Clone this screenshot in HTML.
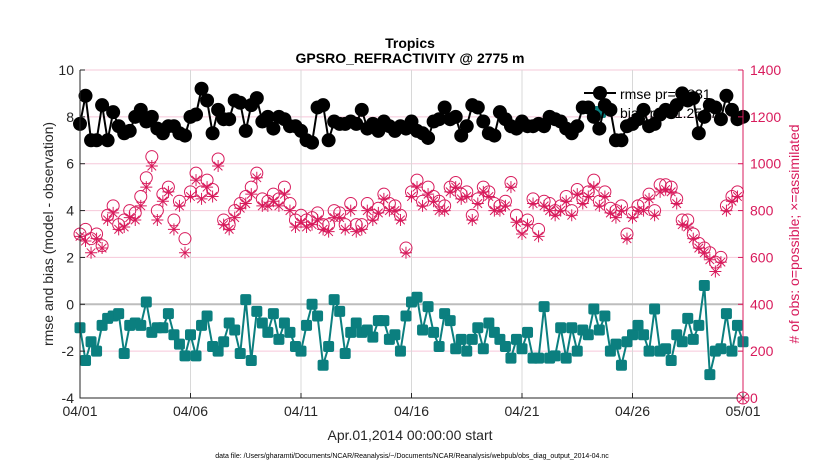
<!DOCTYPE html>
<html><head><meta charset="utf-8"><style>
html,body{margin:0;padding:0;background:#fff;width:830px;height:470px;overflow:hidden}
svg text{font-family:"Liberation Sans",sans-serif}
</style></head><body>
<svg id="chart" width="830" height="470" xmlns="http://www.w3.org/2000/svg"></svg>
<script>
const xTickLabels=["04/01","04/06","04/11","04/16","04/21","04/26","05/01"];
const leftTicks=[-4,-2,0,2,4,6,8,10];
const rightTicks=[0,200,400,600,800,1000,1200,1400];
const rmse=[7.7,8.9,7.0,7.0,8.5,7.0,8.2,7.6,7.3,7.4,
8.0,8.3,7.8,8.0,7.5,7.3,7.6,7.6,7.3,7.2,
8.0,8.1,9.2,8.7,7.3,8.3,7.9,7.9,8.7,8.6,
7.4,8.5,8.8,7.8,8.0,7.5,8.0,7.9,7.6,7.6,
7.4,7.0,6.9,8.4,8.5,7.0,7.8,7.7,7.7,7.8,
7.7,8.3,7.5,7.7,7.4,7.8,7.6,7.4,7.6,7.5,
7.8,7.4,7.3,7.1,7.8,7.9,8.4,7.9,8.0,7.2,
7.6,8.5,8.4,7.8,7.3,7.2,8.2,7.9,7.6,7.5,
7.8,7.6,7.6,7.7,7.6,8.0,7.9,7.8,7.5,7.3,
7.6,8.4,8.4,8.0,7.5,8.5,8.3,7.0,7.0,7.6,
7.7,7.9,8.3,7.6,7.7,8.1,8.3,8.2,8.5,9.0,
8.7,8.8,7.3,8.0,8.5,8.4,7.9,8.9,8.3,7.9,8.0];
const bias=[-1.0,-2.4,-1.6,-2.0,-0.9,-0.6,-0.5,-0.4,-2.1,-0.9,
-0.8,-0.9,0.1,-1.2,-1.0,-1.0,-0.4,-1.3,-1.7,-2.2,
-1.3,-2.2,-0.9,-0.5,-1.8,-2.0,-1.6,-0.8,-1.1,-2.1,
0.2,-2.4,-0.3,-0.8,-1.2,-0.4,-1.5,-0.8,-1.2,-1.8,
-2.0,-0.9,0.0,-0.5,-2.6,-1.8,0.2,-0.3,-2.1,-1.2,
-0.8,-1.2,-1.1,-1.4,-0.7,-0.7,-1.5,-1.3,-2.0,-0.5,
0.1,0.3,-1.1,-0.1,-1.2,-1.8,-0.4,-0.7,-1.9,-1.5,
-2.0,-1.5,-1.0,-1.9,-0.8,-1.2,-1.5,-1.8,-2.3,-1.5,
-1.9,-1.2,-2.3,-2.3,-0.1,-2.3,-2.2,-1.0,-2.3,-1.0,
-2.0,-1.1,-1.3,-0.2,-1.1,-0.5,-2.0,-1.7,-2.6,-1.6,
-1.3,-0.9,-1.3,-2.0,-0.2,-2.0,-1.9,-2.4,-1.3,-1.6,
-0.6,-1.5,-0.9,0.8,-3.0,-2.0,-1.9,-0.4,-2.0,-0.9,-1.6];
const possible=[700,720,680,700,650,780,820,740,760,800,
790,860,940,1030,800,870,900,760,840,680,
880,960,880,930,890,1020,760,740,800,830,
860,900,960,850,840,870,850,900,830,760,
780,760,770,790,740,740,800,790,740,830,
740,740,830,780,810,870,830,820,780,640,
880,930,840,900,860,840,820,900,920,870,
880,780,850,900,880,830,820,840,920,780,
730,760,850,720,840,830,800,820,860,800,
890,850,880,930,840,880,810,800,820,700,
790,820,830,870,800,910,910,900,850,760,
760,700,660,640,620,580,600,820,860,880,0];
const assimilated=[690,670,620,680,640,760,790,720,730,770,
760,820,900,990,760,840,880,720,820,620,
860,930,850,900,860,990,740,720,770,810,
830,870,940,820,820,840,820,870,800,730,
750,730,740,760,720,710,770,770,720,800,
710,720,800,760,790,850,800,800,760,620,
860,900,820,870,840,800,800,880,900,850,
860,760,830,880,860,800,800,820,900,750,
700,740,830,690,820,800,780,800,840,780,
870,830,860,900,820,860,790,770,800,680,
770,800,800,850,780,880,890,880,830,740,
730,680,640,620,590,540,580,800,840,860,0];

const NS="http://www.w3.org/2000/svg";
const svg=document.getElementById('chart');
const X0=80,X1=743,Y0=70,Y1=398;
const CR="#d81b5c";
function xS(i){return X0+(i/4)/30*(X1-X0);}
function yL(v){return Y1-(v+4)/14*(Y1-Y0);}
function yR(c){return Y1-c/1400*(Y1-Y0);}
function mk(tag,attrs,parent){const e=document.createElementNS(NS,tag);for(const k in attrs)e.setAttribute(k,attrs[k]);(parent||svg).appendChild(e);return e;}
function txt(s,attrs){const e=mk('text',attrs);e.textContent=s;return e;}

rightTicks.forEach(t=>{const g=mk('line',{x1:X0,x2:X1,y1:yR(t),y2:yR(t),stroke:'#f6c8da','stroke-width':1});

});
xTickLabels.forEach((l,k)=>{const x=X0+k*5/30*(X1-X0);const g=mk('line',{x1:x,x2:x,y1:Y0,y2:Y1,stroke:'#d8d8d8','stroke-width':1});

});
const zl=mk('line',{x1:X0,x2:X1,y1:yL(0),y2:yL(0),stroke:'#bdbdbd','stroke-width':2});



const lg=mk('g',{});


mk('line',{x1:584,x2:616,y1:93,y2:93,stroke:'#000','stroke-width':2},lg);
mk('circle',{cx:600,cy:93,r:7,fill:'#000'},lg);
mk('line',{x1:584,x2:616,y1:112,y2:112,stroke:'#0b7f7f','stroke-width':2},lg);
mk('rect',{x:594,y:106,width:12,height:12,rx:2,fill:'#0b7f7f'},lg);
const t1=mk('text',{x:620,y:99,'font-size':14,fill:'#000'},lg);t1.textContent='rmse pr=7.831';


const t2=mk('text',{x:620,y:118,'font-size':14,fill:'#000'},lg);t2.textContent='bias pr=-1.2597';



possible.forEach((c,i)=>{const e=mk('circle',{cx:xS(i),cy:yR(c),r:6,fill:'none',stroke:CR,'stroke-width':1});

});
assimilated.forEach((c,i)=>{const x=xS(i),y=yR(c),s=6;
const e=mk('path',{d:`M${x-s} ${y}H${x+s}M${x} ${y-s}V${y+s}M${x-4.3} ${y-4.3}L${x+4.3} ${y+4.3}M${x-4.3} ${y+4.3}L${x+4.3} ${y-4.3}`,stroke:CR,'stroke-width':1,fill:'none'});

});

const rl=mk('polyline',{points:rmse.map((v,i)=>xS(i)+','+yL(v)).join(' '),fill:'none',stroke:'#000','stroke-width':2});


rmse.forEach((v,i)=>{const e=mk('circle',{cx:xS(i),cy:yL(v),r:7,fill:'#000'});

});
const bl=mk('polyline',{points:bias.map((v,i)=>xS(i)+','+yL(v)).join(' '),fill:'none',stroke:'#0b7f7f','stroke-width':2});


bias.forEach((v,i)=>{const e=mk('rect',{x:xS(i)-5.5,y:yL(v)-5.5,width:11,height:11,rx:2,fill:'#0b7f7f'});

});

const ax=mk('path',{d:`M${X0} ${Y0}V${Y1}H${X1}`,stroke:'#262626','stroke-width':1,fill:'none'});


const ar=mk('line',{x1:X1,x2:X1,y1:Y0,y2:Y1,stroke:CR,'stroke-width':1});


leftTicks.forEach(t=>{mk('line',{x1:X0,x2:X0+5,y1:yL(t),y2:yL(t),stroke:'#262626'});
const e=txt(String(t),{x:X0-6,y:yL(t)+5,'font-size':14,'text-anchor':'end',fill:'#262626'});

});
rightTicks.forEach(t=>{mk('line',{x1:X1-5,x2:X1,y1:yR(t),y2:yR(t),stroke:CR});
const e=txt(String(t),{x:X1+7,y:yR(t)+5,'font-size':14,fill:CR});

});
xTickLabels.forEach((l,k)=>{const x=X0+k*5/30*(X1-X0);
mk('line',{x1:x,x2:x,y1:Y1,y2:Y1-5,stroke:'#262626'});
const e=txt(l,{x:x,y:416,'font-size':14,'text-anchor':'middle',fill:'#262626'});

});
</script>
<svg style="position:absolute;left:0;top:0" width="830" height="470" xmlns="http://www.w3.org/2000/svg">
<text x="410" y="48" font-size="14" font-weight="bold" text-anchor="middle" font-family="Liberation Sans, sans-serif">Tropics</text>
<text x="410" y="63" font-size="14" font-weight="bold" text-anchor="middle" font-family="Liberation Sans, sans-serif">GPSRO_REFRACTIVITY @ 2775 m</text>
<text transform="translate(53,234) rotate(-90)" font-size="14" text-anchor="middle" fill="#262626" font-family="Liberation Sans, sans-serif">rmse and bias (model - observation)</text>
<text transform="translate(799,234) rotate(-90)" font-size="14" text-anchor="middle" fill="#d81b5c" font-family="Liberation Sans, sans-serif"># of obs: o=possible; ×=assimilated</text>
<text x="410" y="440" font-size="14" text-anchor="middle" fill="#262626" font-family="Liberation Sans, sans-serif">Apr.01,2014 00:00:00 start</text>
<text x="412" y="458" font-size="7" text-anchor="middle" font-family="Liberation Sans, sans-serif">data file: /Users/gharamti/Documents/NCAR/Reanalysis/~/Documents/NCAR/Reanalysis/webpub/obs_diag_output_2014-04.nc</text>
</svg>
</body></html>
